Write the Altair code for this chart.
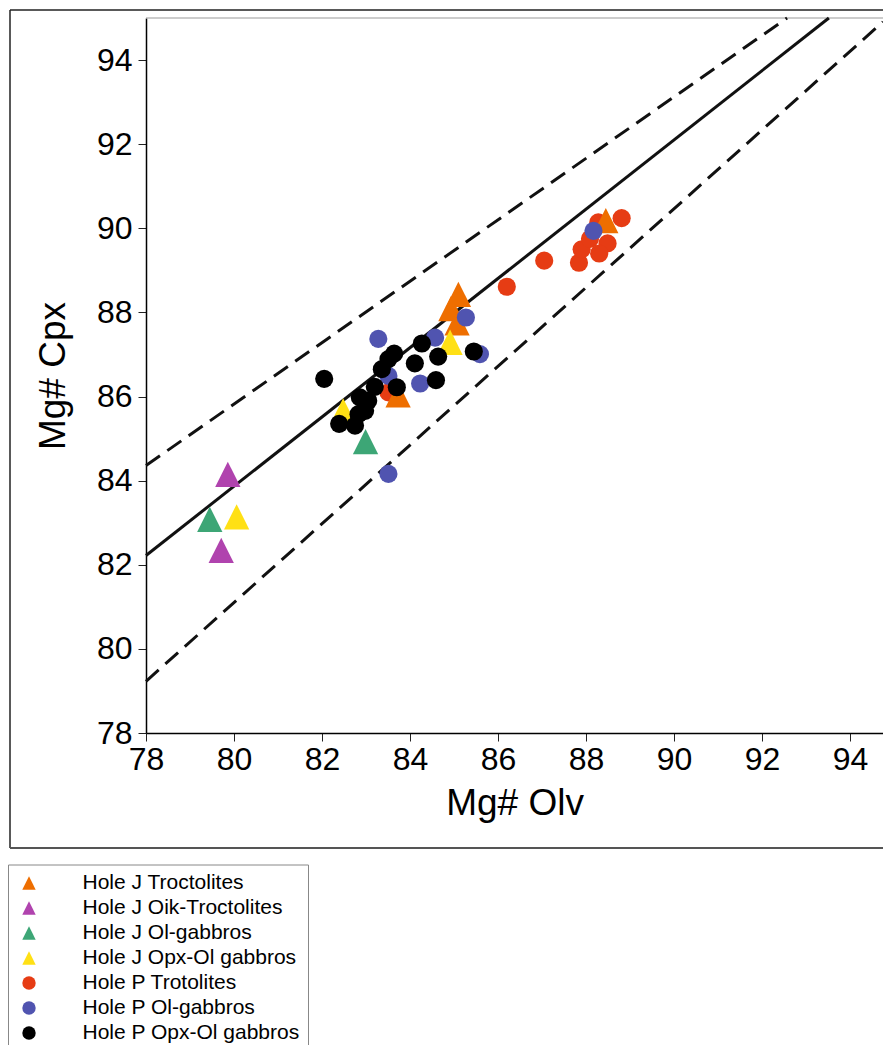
import altair as alt
import pandas as pd

# ---------------- data ----------------
groups = [
    "Hole J Troctolites",
    "Hole J Oik-Troctolites",
    "Hole J Ol-gabbros",
    "Hole J Opx-Ol gabbros",
    "Hole P Trotolites",
    "Hole P Ol-gabbros",
    "Hole P Opx-Ol gabbros",
]
colors = ["#EE6E00", "#B043AE", "#3DA676", "#FFE015", "#E63C14", "#5054B0", "#000000"]
TRI = "M0,-1L1,1L-1,1Z"
shapes = [TRI, TRI, TRI, TRI, "circle", "circle", "circle"]

j_troc_olv = [85.10, 84.93, 85.07, 88.45, 83.73]
j_troc_cpx = [88.43, 88.09, 87.75, 90.18, 86.04]

j_oik_olv = [79.86, 79.71]
j_oik_cpx = [84.15, 82.34]

j_olgab_olv = [79.45, 82.99]
j_olgab_cpx = [83.08, 84.93]

j_opx_olv = [80.06, 84.91, 82.48]
j_opx_cpx = [83.14, 87.29, 85.66]

p_troc_olv = [86.20, 87.05, 87.84, 87.90, 88.09, 88.28, 88.49, 88.81, 88.30, 83.51]
p_troc_cpx = [88.61, 89.23, 89.18, 89.50, 89.75, 90.14, 89.64, 90.24, 89.40, 86.10]

p_olgab_olv = [88.17, 83.28, 85.27, 84.57, 84.23, 85.59, 83.51, 83.51]
p_olgab_cpx = [89.94, 87.37, 87.88, 87.40, 86.31, 87.01, 84.16, 86.49]

p_opx_olv = [82.05, 82.39, 82.75, 82.86, 82.83, 82.98, 83.05, 83.20, 83.36,
             83.51, 83.64, 83.70, 84.11, 84.27, 84.64, 84.59, 85.45]
p_opx_cpx = [86.42, 85.35, 85.31, 85.98, 85.58, 85.66, 85.90, 86.23, 86.65,
             86.89, 87.02, 86.22, 86.79, 87.26, 86.95, 86.39, 87.07]

# reference lines (end points)
solid_x = [78.0, 93.52]
solid_y = [82.22, 95.0]
upper_x = [78.0, 92.57]
upper_y = [84.36, 95.0]
lower_x = [78.0, 94.75]
lower_y = [79.23, 94.91]

ticks = [78, 80, 82, 84, 86, 88, 90, 92, 94]

# ---------------- tables ----------------
def frame(name, xs, ys):
    return pd.DataFrame({"olv": xs, "cpx": ys, "group": name})

# drawing order: red, triangles, blue, black
pts = pd.concat([
    frame(groups[4], p_troc_olv, p_troc_cpx),
    frame(groups[0], j_troc_olv, j_troc_cpx),
    frame(groups[1], j_oik_olv, j_oik_cpx),
    frame(groups[2], j_olgab_olv, j_olgab_cpx),
    frame(groups[3], j_opx_olv, j_opx_cpx),
    frame(groups[5], p_olgab_olv, p_olgab_cpx),
    frame(groups[6], p_opx_olv, p_opx_cpx),
], ignore_index=True)
pts["order"] = range(len(pts))

solid_df = pd.DataFrame({"olv": solid_x, "cpx": solid_y})
dash_df = pd.concat([
    pd.DataFrame({"olv": upper_x, "cpx": upper_y, "line": "upper"}),
    pd.DataFrame({"olv": lower_x, "cpx": lower_y, "line": "lower"}),
], ignore_index=True)

W, H = 737, 715
FONT = "Liberation Sans"

xscale = alt.Scale(domain=[78, 78 + W / 44.0], nice=False, zero=False)
yscale = alt.Scale(domain=[78, 95], nice=False, zero=False)

xaxis = alt.Axis(title="Mg# Olv", values=ticks, grid=False, tickSize=8,
                 labelPadding=3, titlePadding=10, labelFontSize=32,
                 titleFontSize=37, labelFont=FONT, titleFont=FONT,
                 titleFontWeight="normal", labelColor="black", titleColor="black",
                 domainColor="black", domainWidth=1.5, tickColor="#222",
                 tickWidth=1, labelFlush=False, labelOverlap=False)
yaxis = alt.Axis(title="Mg# Cpx", values=ticks, grid=False, tickSize=8,
                 labelPadding=6, titlePadding=24, labelFontSize=32,
                 titleFontSize=37, labelFont=FONT, titleFont=FONT,
                 titleFontWeight="normal", labelColor="black", titleColor="black",
                 domainColor="black", domainWidth=1.5, tickColor="#222",
                 tickWidth=1, labelFlush=False, labelOverlap=False)

legend = alt.Legend(orient="none", legendX=-138, legendY=846.5, title=None,
                    labelFont=FONT, labelFontSize=21, labelColor="black",
                    symbolSize=180, symbolStrokeWidth=0, padding=8,
                    rowPadding=3, symbolOffset=2.5, labelOffset=43,
                    strokeColor="#888", fillColor="white", symbolOpacity=1,
                    labelLimit=400)

points = alt.Chart(pts).mark_point(filled=True, opacity=1, size=330, strokeWidth=0).encode(
    x=alt.X("olv:Q", scale=xscale, axis=xaxis),
    y=alt.Y("cpx:Q", scale=yscale, axis=yaxis),
    color=alt.Color("group:N", scale=alt.Scale(domain=groups, range=colors), legend=legend),
    shape=alt.Shape("group:N", scale=alt.Scale(domain=groups, range=shapes), legend=legend),
    size=alt.condition("indexof(datum.group, 'Hole J') == 0", alt.value(640), alt.value(330)),
    order=alt.Order("order:Q"),
)

solid = alt.Chart(solid_df).mark_line(color="#111", strokeWidth=3).encode(
    x=alt.X("olv:Q", scale=xscale), y=alt.Y("cpx:Q", scale=yscale)
)
dashed = alt.Chart(dash_df).mark_line(color="#111", strokeWidth=3, strokeDash=[17, 9]).encode(
    x=alt.X("olv:Q", scale=xscale), y=alt.Y("cpx:Q", scale=yscale),
    detail="line:N",
)

# decorative frame lines
top_border = alt.Chart().mark_rule(color="#999", strokeWidth=1).encode(
    x=alt.value(0), x2=alt.value(W), y=alt.value(0))
frame_top = alt.Chart().mark_rule(color="#222", strokeWidth=1.5).encode(
    x=alt.value(-136), x2=alt.value(W), y=alt.value(-8))
frame_left = alt.Chart().mark_rule(color="#222", strokeWidth=1.5).encode(
    x=alt.value(-136), y=alt.value(-8), y2=alt.value(830))
frame_bottom = alt.Chart().mark_rule(color="#555", strokeWidth=2).encode(
    x=alt.value(-136), x2=alt.value(W), y=alt.value(830))

chart = alt.layer(
    frame_top, frame_left, frame_bottom, top_border, solid, dashed, points
).properties(
    width=W, height=H,
    autosize=alt.AutoSizeParams(type="none"),
    padding={"left": 138, "top": 10, "right": 0, "bottom": 312},
).configure_view(stroke=None)

chart.save("out.html", embed_options={"renderer": "svg", "actions": False})
